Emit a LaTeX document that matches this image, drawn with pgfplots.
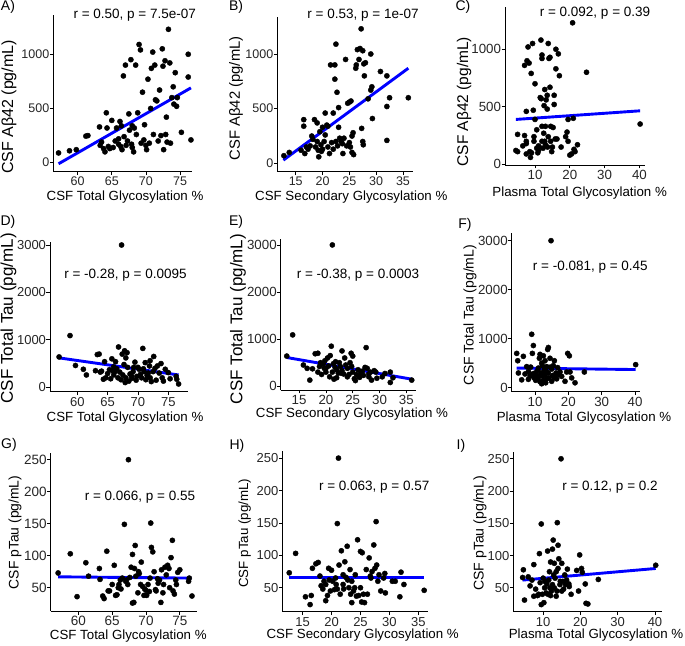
\documentclass[border=0pt]{standalone}
\usepackage{fontspec}
\setmainfont{Liberation Sans}
\usepackage{pgfplots}
\pgfplotsset{compat=1.18}
\definecolor{regblue}{RGB}{0,0,255}
\pgfplotsset{
  panel/.style={scale only axis, anchor=south west, clip=false,
    axis x line*=bottom, axis y line*=left, axis line style={-, line width=0.8pt, black},
    tick align=outside, major tick length=3.5pt,
    every tick/.style={black, line width=0.8pt},
    tick label style={font=\fontsize{#1}{14}\selectfont, text=black!85},
    /pgf/number format/assume math mode=true,
    /pgf/number format/1000 sep={},
    xticklabel style={yshift=1.5pt},
    yticklabel style={xshift=3pt},
  },
  panel/.default=12.8,
  pts/.style={only marks, mark=*, mark size=2.6pt, black, mark options={fill=black}},
  reg/.style={regblue, line width=2.9pt, no marks},
}
\newcommand{\anno}[1]{\fontsize{13.5}{15}\selectfont #1}
\newcommand{\xl}[3]{\node[font=\fontsize{13.3}{15}\selectfont, inner sep=0pt] at (#1pt,#2pt) {#3};}
\newcommand{\yl}[4]{\node[font=\fontsize{#3}{15}\selectfont, inner sep=0pt, rotate=90] at (#1pt,#2pt) {#4};}
\begin{document}
\begin{tikzpicture}
\useasboundingbox (0,0) rectangle (685pt,645pt);
% ---------------- A
\begin{axis}[panel=12.5, at={(53.3pt,473.3pt)}, width=138.4pt, height=156.7pt,
  xmin=56.43, xmax=76.71, ymin=-83, ymax=1362,
  xtick={60,65,70,75}, ytick={0,500,1000}]
\addplot[pts] coordinates {(57.2,90) (58.8,110) (59.8,120) (61.2,245) (61.5,250) (63.2,330) (63.3,160) (63.5,190) (63.8,130) (64.0,100) (64.2,460) (64.3,320) (64.5,150) (64.7,130) (65.0,390) (65.2,140) (65.5,200) (65.7,320) (66.0,170) (66.0,220) (66.2,380) (66.3,150) (66.4,340) (66.5,120) (66.7,800) (66.8,240) (67.0,900) (67.1,160) (67.3,200) (67.5,450) (67.6,300) (67.8,950) (67.9,170) (68.0,340) (68.0,140) (68.2,100) (68.3,320) (68.5,900) (68.6,260) (68.8,460) (69.0,1090) (69.2,1040) (69.3,180) (69.5,650) (69.7,210) (69.8,350) (70.0,160) (70.1,120) (70.3,770) (70.5,180) (70.7,500) (70.8,870) (71.0,1020) (71.1,260) (71.3,900) (71.4,580) (71.6,570) (71.8,200) (72.0,670) (72.2,250) (72.4,1050) (72.5,890) (72.6,120) (72.8,940) (72.9,260) (73.0,420) (73.1,190) (73.3,1230) (73.5,920) (73.6,180) (73.8,600) (74.0,700) (74.1,540) (74.3,830) (74.5,520) (74.6,600) (75.2,280) (76.2,1000) (76.2,790) (76.6,210)};
\addplot[reg] coordinates {(57.2,-10) (76.6,690)};
\end{axis}
% ---------------- B
\begin{axis}[panel=12.5, at={(277.3pt,473.3pt)}, width=135.7pt, height=155pt,
  xmin=11.57, xmax=36.87, ymin=-76, ymax=1341,
  xtick={15,20,25,30,35}, ytick={0,500,1000}]
\addplot[pts] coordinates {(12.8,70) (13.8,100) (16.0,120) (16.5,400) (16.5,340) (16.7,90) (17.0,150) (17.3,130) (17.7,160) (18.0,250) (18.2,220) (18.5,400) (18.7,150) (19.0,200) (19.0,370) (19.2,120) (19.3,60) (19.5,290) (19.7,170) (19.8,110) (20.0,330) (20.0,130) (20.3,200) (20.5,460) (20.5,260) (20.8,350) (21.0,340) (21.0,150) (21.3,90) (21.5,900) (21.7,190) (22.0,460) (22.0,130) (22.3,770) (22.3,900) (22.5,1090) (22.5,200) (22.7,650) (22.8,160) (23.0,510) (23.0,330) (23.2,230) (23.5,200) (23.7,180) (23.8,90) (24.0,230) (24.3,950) (24.5,160) (24.7,550) (25.0,560) (25.0,190) (25.2,150) (25.3,570) (25.5,100) (25.5,250) (25.7,280) (25.8,80) (26.2,870) (26.3,900) (26.5,1040) (26.8,950) (27.0,1050) (27.2,1230) (27.3,320) (27.5,1030) (27.5,200) (27.6,170) (27.7,910) (27.8,800) (28.0,920) (28.5,590) (29.0,1000) (29.0,670) (29.2,700) (29.3,410) (30.8,840) (32.0,520) (32.0,800) (32.0,210) (32.5,600) (36.0,600)};
\addplot[reg] coordinates {(12.7,30) (36,870)};
\end{axis}
% ---------------- C
\begin{axis}[panel=13.3, at={(505pt,480pt)}, width=140pt, height=158.3pt,
  xmin=1.38, xmax=41.6, ymin=-6, ymax=1370,
  xtick={10,20,30,40}, ytick={0,500,1000}]
\addplot[pts] coordinates {(4.5,120) (5,110) (5,260) (6.5,160) (7,250) (7.5,90) (7.5,180) (7.5,200) (7.0,860) (7.5,460) (7.7,900) (8,1020) (8.3,880) (8.5,110) (8.7,60) (8.9,790) (9,100) (9.3,1050) (9.5,470) (9.7,240) (9.7,200) (10,390) (10,700) (10.5,140) (10.5,300) (10.8,100) (11,160) (11,120) (11.2,150) (11.5,580) (11.7,1080) (11.8,570) (12,950) (12,920) (12,330) (12,200) (12.3,140) (12.5,270) (12.6,510) (12.8,650) (12.8,200) (13,170) (13,330) (13.2,560) (13.5,600) (13.5,480) (13.6,150) (13.8,1050) (13.8,240) (14,920) (14.3,930) (14.3,670) (14.5,330) (14.5,200) (14.8,110) (15.0,150) (15.2,320) (15.5,600) (15.5,520) (15.8,220) (16.0,1000) (16.0,830) (16.3,220) (16.7,960) (17.0,770) (17.5,150) (18.8,240) (19.2,280) (19.5,390) (19.5,200) (20.0,80) (20.5,90) (20.8,1230) (21.0,400) (21.2,130) (21.5,110) (22.2,170) (24.8,800) (40.2,350)};
\addplot[reg] coordinates {(4.5,390) (40.2,465)};
\end{axis}
% ---------------- D
\begin{axis}[panel=13, at={(50pt,253.3pt)}, width=138.3pt, height=150pt,
  xmin=55.5, xmax=78.3, ymin=-93, ymax=3070,
  xtick={60,65,70,75}, ytick={0,1000,2000,3000}]
\addplot[pts] coordinates {(57,640) (58.8,1090) (59.7,460) (61,380) (61.5,260) (63,350) (63.3,690) (63.6,700) (63.8,320) (64,340) (64.3,170) (64.5,540) (64.7,200) (65,290) (65.3,370) (65.5,180) (65.7,600) (66,260) (66,430) (66.2,330) (66.5,390) (66.7,200) (66.8,850) (67,320) (67.2,160) (67.3,3000) (67.4,700) (67.5,260) (67.7,480) (67.8,770) (67.9,100) (68,200) (68.2,730) (68.3,420) (68.5,130) (68.7,280) (68.9,250) (69,190) (69.2,330) (69.5,530) (69.7,150) (69.8,230) (70,420) (70.2,380) (70.4,270) (70.6,200) (70.8,820) (71,330) (71.2,520) (71.3,160) (71.5,250) (71.7,300) (72,560) (72,200) (72.2,120) (72.5,330) (72.6,650) (72.8,400) (73,150) (73.2,450) (73.5,300) (73.8,500) (74,200) (74.2,130) (74.5,380) (75,310) (75.3,180) (76.3,230) (76.4,170) (76.7,70) (68.0,620) (66.3,540) (69.3,420) (70.9,390) (71.9,450) (65.8,350)};
\addplot[reg] coordinates {(57,620) (76.7,260)};
\end{axis}
% ---------------- E
\begin{axis}[panel=13.3, at={(280.7pt,255pt)}, width=135.7pt, height=150.7pt,
  xmin=11.57, xmax=36.87, ymin=-80, ymax=3120,
  xtick={15,20,25,30,35}, ytick={0,1000,2000,3000}]
\addplot[pts] coordinates {(12.7,640) (13.8,1090) (15.8,450) (16.5,380) (17.0,130) (17.5,370) (18,690) (18.5,700) (18.5,300) (19,500) (19.2,250) (19.5,470) (19.8,540) (20,300) (20,380) (20.3,600) (20.5,430) (20.7,200) (20.8,650) (21,850) (21.2,3000) (21.2,300) (21.5,150) (21.7,400) (21.8,520) (22,350) (22,180) (22.3,280) (22.5,500) (22.7,420) (23,750) (23,330) (23.3,260) (23.5,600) (23.7,450) (24,200) (24,380) (24.3,250) (24.5,500) (24.7,700) (25,640) (25,300) (25.3,160) (25.5,120) (25.7,250) (26,350) (26.2,200) (26.5,280) (26.8,320) (27,230) (27.3,400) (27.5,820) (27.7,380) (28,200) (28.3,300) (28.5,130) (29,330) (29.3,300) (29.5,170) (30.5,200) (31,270) (32,300) (32,80) (32.5,180) (36,130) (22.8,280) (19.7,380) (26.3,190) (24.8,420) (18.8,420) (21.4,480) (28.0,260)};
\addplot[reg] coordinates {(12.7,610) (36,150)};
\end{axis}
% ---------------- F
\begin{axis}[panel=13.3, at={(511.7pt,253.3pt)}, width=128.3pt, height=158.4pt,
  xmin=3.0, xmax=41.5, ymin=-82, ymax=3151,
  xtick={10,20,30,40}, ytick={0,1000,2000,3000}]
\addplot[pts] coordinates {(4.5,700) (4.8,550) (5,300) (6,160) (6.5,640) (7,280) (7.5,430) (8,330) (8,170) (8.5,240) (9,1090) (9.2,700) (9.5,860) (9.7,200) (10,300) (10.2,150) (10.5,250) (11,400) (11,200) (11.3,600) (11.5,680) (11.5,120) (11.8,300) (12,500) (12,80) (12.2,450) (12.3,240) (12.5,650) (12.5,150) (12.8,380) (13,550) (13,260) (13.2,100) (13.5,430) (13.5,180) (13.8,780) (14,820) (14,300) (14.2,200) (14.5,600) (14.8,3000) (15,380) (15,130) (15.3,250) (15.5,450) (15.8,550) (16,200) (16.3,300) (16.5,180) (17,270) (17.5,320) (19,130) (19.5,320) (19.8,700) (20.3,650) (20.5,320) (21,200) (22,100) (24.8,320) (40.2,470) (10.8,350) (12.7,330) (14.6,420) (11.7,260) (13.3,340) (9.3,280) (8.7,420) (15.7,220) (16.8,410) (18,230)};
\addplot[reg] coordinates {(4.5,400) (40.2,370)};
\end{axis}
% ---------------- G
\begin{axis}[panel=13.5, at={(50.7pt,34pt)}, width=146pt, height=157.7pt,
  xmin=55.9, xmax=77.5, ymin=13.6, ymax=260,
  xtick={60,65,70,75}, ytick={50,100,150,200,250}]
\addplot[pts] coordinates {(57,73) (58.8,103) (59.8,36) (61.1,89) (61.5,68) (63.1,80) (63.2,63) (63.6,37) (63.8,33) (64.2,107) (64.4,45) (64.6,45) (65,55) (65.3,85) (65.5,38) (65.7,39) (66,55) (66.2,62) (66.3,48) (66.5,65) (66.8,149) (67,60) (67.3,55) (67.4,250) (67.6,66) (67.8,82) (68,102) (68,26) (68.2,27) (68.3,80) (68.4,116) (68.5,68) (68.8,42) (69,72) (69.2,55) (69.3,90) (69.5,52) (69.7,38) (70,46) (70.1,38) (70.3,55) (70.5,44) (70.7,151) (70.8,113) (71,106) (71.2,75) (71.4,47) (71.5,45) (71.8,57) (72,62) (72.2,27) (72.3,78) (72.5,42) (72.6,55) (72.8,82) (73,70) (73.2,85) (73.4,80) (73.5,50) (73.7,97) (73.9,124) (74,45) (74.2,40) (74.4,62) (74.5,55) (74.7,74) (75,78) (76.3,60) (76.4,65) (76.8,37) (68.9,75) (67.1,62) (70.6,65) (65.9,50) (71.7,64) (69.8,48)};
\addplot[reg] coordinates {(57,67) (76.7,65)};
\end{axis}
% ---------------- H
\begin{axis}[panel=13, at={(282.3pt,33.3pt)}, width=145.7pt, height=160.7pt,
  xmin=11.5, xmax=36.66, ymin=13, ymax=261,
  xtick={15,20,25,30,35}, ytick={50,100,150,200,250}]
\addplot[pts] coordinates {(12.7,73) (13.8,103) (15.5,36) (16.3,24) (16.5,38) (16.7,80) (17.3,87) (17.7,89) (18,68) (18.2,53) (18.5,48) (18.7,60) (19,55) (19,30) (19.3,38) (19.5,80) (19.8,45) (20,77) (20.2,60) (20.5,47) (20.7,65) (21,48) (21,149) (21.2,250) (21.3,85) (21.5,40) (21.7,107) (22,55) (22,70) (22.3,90) (22.5,66) (22.7,114) (22.8,62) (23,50) (23.2,78) (23.3,40) (23.5,27) (23.5,60) (23.8,45) (24,50) (24.3,37) (24.5,124) (24.7,38) (25,106) (25,50) (25.2,28) (25.3,104) (25.5,40) (25.7,27) (26,78) (26.2,40) (26.5,96) (26.8,65) (27,75) (27.3,116) (27.5,80) (27.7,152) (27.8,85) (28,60) (28.2,70) (28.5,45) (29,65) (29.2,72) (29.3,42) (30.5,60) (31,60) (31.8,36) (32,74) (32.5,55) (36,46) (24.1,70) (20.8,55) (26.7,68) (22.1,48) (19.6,62)};
\addplot[reg] coordinates {(12.7,66) (36,66)};
\end{axis}
% ---------------- I
\begin{axis}[panel=13, at={(513.3pt,33.3pt)}, width=148.4pt, height=160pt,
  xmin=2.0, xmax=41.8, ymin=13, ymax=261,
  xtick={10,20,30,40}, ytick={50,100,150,200,250}]
\addplot[pts] coordinates {(4.5,66) (4.7,78) (5,31) (6,67) (6.5,53) (7,62) (7.5,37) (7.5,86) (8,48) (8.5,38) (8.8,40) (9,103) (9.5,149) (9.5,24) (9.8,40) (10,65) (10.2,27) (10.5,60) (10.8,42) (11,56) (11.2,107) (11.5,62) (11.7,75) (12,90) (12,38) (12.2,45) (12.5,110) (12.5,55) (12.7,124) (13,88) (13,50) (13.2,65) (13.5,37) (13.5,75) (13.8,151) (14,116) (14,80) (14.2,95) (14.5,55) (14.8,250) (15,88) (15,45) (15.3,60) (15.5,48) (15.8,70) (16,55) (16.3,62) (16.5,79) (17,52) (17.5,40) (19,77) (19.5,45) (19.8,101) (20.3,80) (20.5,74) (21.3,56) (21.5,26) (22,25) (24.8,63) (40.2,85) (11.8,50) (13.7,45) (12.8,70) (14.6,60) (10.4,50) (9.2,58) (16.9,56) (11.3,40)};
\addplot[reg] coordinates {(4.5,62) (40.2,80)};
\end{axis}
% ---------------- axis titles
\xl{125}{448.3}{CSF Total Glycosylation \%}
\xl{351.3}{448.3}{CSF Secondary Glycosylation \%}
\xl{579.7}{451.7}{Plasma Total Glycosylation \%}
\xl{125}{227}{CSF Total Glycosylation \%}
\xl{352}{231}{CSF Secondary Glycosylation \%}
\xl{584}{226.7}{Plasma Total Glycosylation \%}
\xl{128.3}{8.5}{CSF Total Glycosylation \%}
\xl{362.7}{9.5}{CSF Secondary Glycosylation \%}
\xl{596}{10}{Plasma Total Glycosylation \%}
\yl{9}{538}{16}{CSF Aβ42 (pg/mL)}
\yl{236}{546.7}{14.8}{CSF Aβ42 (pg/mL)}
\yl{464}{543.3}{15.5}{CSF Aβ42 (pg/mL)}
\yl{8.5}{326.7}{17}{CSF Total Tau (pg/mL)}
\yl{238}{326}{17}{CSF Total Tau (pg/mL)}
\yl{470}{330}{14}{CSF Total Tau (pg/mL)}
\yl{15}{112.5}{13.9}{CSF pTau (pg/mL)}
\yl{244.7}{111.7}{13.3}{CSF pTau (pg/mL)}
\yl{480}{111.7}{14.1}{CSF pTau (pg/mL)}
% ---------------- annotations
\node at (134.7pt,630pt) {\anno{r = 0.50, p = 7.5e-07}};
\node at (363pt,630pt) {\anno{r = 0.53, p = 1e-07}};
\node at (595pt,631.7pt) {\anno{r = 0.092, p = 0.39}};
\node at (125.5pt,370pt) {\anno{r = -0.28, p = 0.0095}};
\node at (358pt,370pt) {\anno{r = -0.38, p = 0.0003}};
\node at (590.3pt,378.3pt) {\anno{r = -0.081, p = 0.45}};
\node at (140pt,148.3pt) {\anno{r = 0.066, p = 0.55}};
\node at (374.2pt,158.3pt) {\anno{r = 0.063, p = 0.57}};
\node at (610pt,158.3pt) {\anno{r = 0.12, p = 0.2}};
% ---------------- panel letters
\begin{scope}[every node/.style={font=\fontsize{14}{16}\selectfont, inner sep=0pt}]
\node at (8pt,638pt) {A)};
\node at (236pt,638pt) {B)};
\node at (463pt,638pt) {C)};
\node at (8pt,423pt) {D)};
\node at (236pt,423pt) {E)};
\node at (465pt,420pt) {F)};
\node at (9pt,200pt) {G)};
\node at (237pt,199pt) {H)};
\node at (461pt,199pt) {I)};
\end{scope}
\end{tikzpicture}
\end{document}
